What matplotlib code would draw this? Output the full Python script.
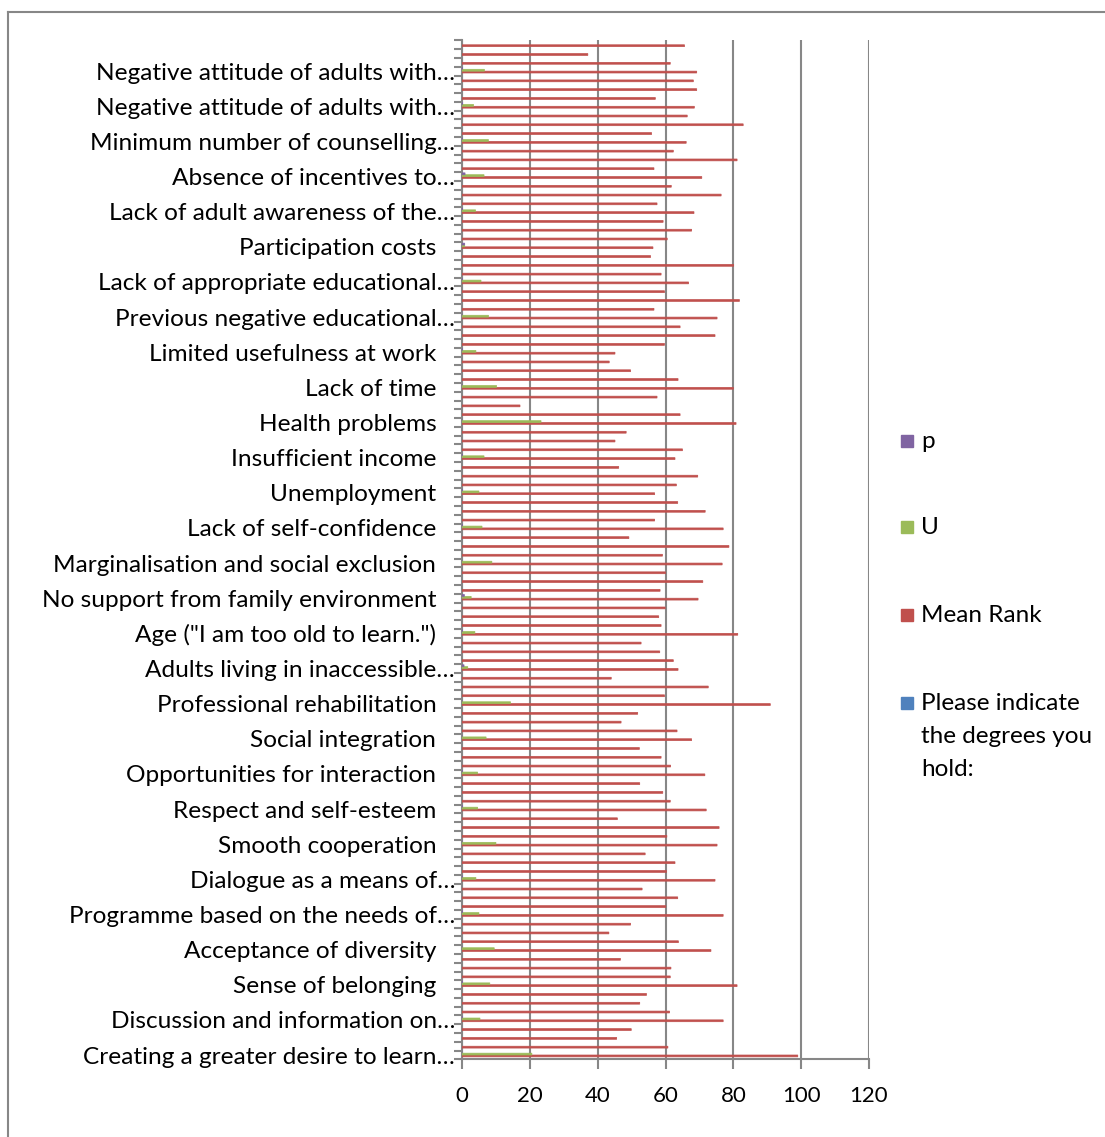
import numpy as np
import matplotlib
matplotlib.use("Agg")
import matplotlib.pyplot as plt
from matplotlib.patches import Rectangle
from matplotlib.lines import Line2D

plt.rcParams['font.family'] = ['Lato', 'DejaVu Sans']

# category labels (every 4th row is labelled, bottom to top)
labels = [
    'Creating a greater desire to learn\u2026',
    'Discussion and information on\u2026',
    'Sense of belonging',
    'Acceptance of diversity',
    'Programme based on the needs of\u2026',
    'Dialogue as a means of\u2026',
    'Smooth cooperation',
    'Respect and self-esteem',
    'Opportunities for interaction',
    'Social integration',
    'Professional rehabilitation',
    'Adults living in inaccessible\u2026',
    'Age ("I am too old to learn.")',
    'No support from family environment',
    'Marginalisation and social exclusion',
    'Lack of self-confidence',
    'Unemployment',
    'Insufficient income',
    'Health problems',
    'Lack of time',
    'Limited usefulness at work',
    'Previous negative educational\u2026',
    'Lack of appropriate educational\u2026',
    'Participation costs',
    'Lack of adult awareness of the\u2026',
    'Absence of incentives to\u2026',
    'Minimum number of counselling\u2026',
    'Negative attitude of adults with\u2026',
    'Negative attitude of adults with\u2026',
]

# Mean Rank, one per row, bottom to top (116 rows)
mean_rank = [
    99.0, 60.7, 45.6, 49.9, 77.0, 61.2, 52.4, 54.4, 81.1, 61.4, 61.6, 46.7,
    73.4, 63.8, 43.3, 49.7, 77.0, 60.1, 63.6, 53.1, 74.6, 60.3, 62.8, 54.0,
    75.2, 60.4, 75.8, 45.8, 72.0, 61.4, 59.2, 52.4, 71.6, 61.5, 58.7, 52.3,
    67.7, 63.4, 46.9, 51.8, 90.9, 59.7, 72.6, 44.0, 63.7, 62.3, 58.3, 52.8,
    81.3, 58.7, 58.0, 59.9, 69.6, 58.4, 71.0, 60.0, 76.7, 59.1, 78.7, 49.2,
    77.0, 56.8, 71.7, 63.6, 56.8, 63.2, 69.5, 46.2, 62.8, 65.0, 45.1, 48.4,
    80.8, 64.3, 17.1, 57.5, 80.0, 63.7, 49.7, 43.4, 45.1, 59.7, 74.6, 64.3,
    75.2, 56.6, 81.8, 59.7, 66.8, 58.7, 80.1, 55.6, 56.3, 60.5, 67.7, 59.3,
    68.4, 57.5, 76.4, 61.7, 70.7, 56.6, 81.1, 62.3, 66.1, 55.9, 82.9, 66.4,
    68.5, 57.0, 69.2, 68.2, 69.2, 61.4, 37.1, 65.6,
]

# U and p, only on the labelled rows
u_vals = [20.6, 5.3, 8.2, 9.5, 5.0, 4.1, 10.0, 4.6, 4.6, 7.1, 14.3, 1.7,
          3.8, 2.7, 8.8, 5.9, 5.0, 6.5, 23.3, 10.2, 4.1, 7.8, 5.6, 0.8,
          4.0, 6.5, 7.8, 3.4, 6.6]
p_vals = [0.0, 0.05, 0.1, 0.0, 0.1, 0.05, 0.0, 0.1, 0.05, 0.0, 0.0, 0.6,
          0.1, 0.7, 0.0, 0.05, 0.1, 0.05, 0.0, 0.0, 0.1, 0.0, 0.05, 0.8,
          0.1, 0.9, 0.05, 0.2, 0.1]

n = len(mean_rank)
rows = np.arange(n)
lab_rows = rows[::4]

# Excel pads the untruncated labels on the right
shown = [t if t.endswith('\u2026') else t + '   ' for t in labels]

W, H = 1105, 1137
fig = plt.figure(figsize=(W / 100, H / 100), dpi=100)
ax = fig.add_axes([462 / W, 1 - 1059.4 / H, (869 - 462) / W, (1059.4 - 40.4) / H])

w = 0.21
grey = '#878787'
series = [(rows - 0.5 * w, mean_rank, '#C0504D'),
          (lab_rows + 0.5 * w, u_vals, '#9BBB59'),
          (lab_rows + 1.5 * w, p_vals, '#8064A2')]
for pos, vals, col in series:
    bars = ax.barh(pos, vals, height=w, color=col, edgecolor=col, lw=0.5,
                   zorder=3)
    for b in bars:
        b.set_snap(False)

ax.set_xlim(0, 120)
ax.set_ylim(-0.5, n - 0.5)
ax.set_xticks(range(0, 121, 20))
ax.xaxis.grid(True, color=grey, lw=1.5, zorder=1)
ax.set_axisbelow(True)

ax.set_yticks(np.arange(-0.5, n, 1))
ax.set_yticklabels([])
ax.set_yticks(lab_rows, shown, minor=True)
ax.tick_params(axis='y', which='major', length=6, width=1.5, color=grey)
ax.tick_params(axis='y', which='minor', length=0, pad=5, labelsize=17.6)
ax.tick_params(axis='x', length=7, width=1.5, color=grey, pad=12, labelsize=16)

for s in ['top', 'right']:
    ax.spines[s].set_visible(False)
for s in ['left', 'bottom']:
    ax.spines[s].set_color(grey)
    ax.spines[s].set_linewidth(1.5)

# chart area border
fig.add_artist(Line2D([8 / W, 8 / W], [0, 1 - 12 / H], color=grey, lw=1.5))
fig.add_artist(Line2D([8 / W, 1], [1 - 12 / H, 1 - 12 / H], color=grey, lw=1.5))

# legend
leg = [('p', '#8064A2', 440.7), ('U', '#9BBB59', 527.3),
       ('Mean Rank', '#C0504D', 615.0),
       ('Please indicate\nthe degrees you\nhold:', '#4F81BD', 702.7)]
for txt, col, yc in leg:
    fig.add_artist(Rectangle((901 / W, 1 - (yc + 6) / H), 12 / W, 12 / H,
                             transform=fig.transFigure, color=col))
    fig.text(921 / W, 1 - (yc - 10) / H, txt, fontsize=17.5, va='top',
             ha='left', linespacing=1.72)

fig.savefig('out.png', dpi=100)
